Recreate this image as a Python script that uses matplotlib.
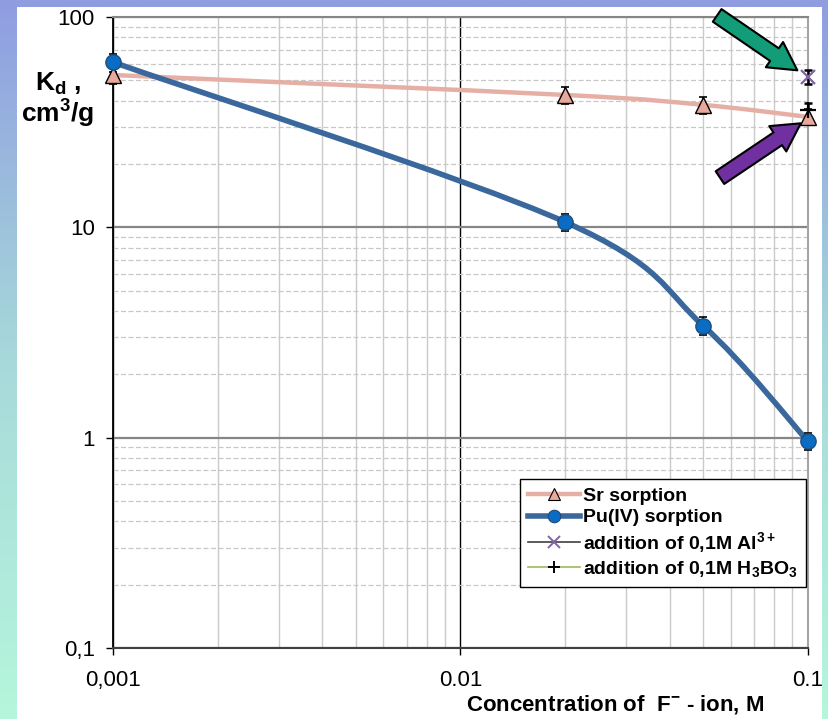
import numpy as np
import matplotlib
matplotlib.use("Agg")
import matplotlib.pyplot as plt
from matplotlib.path import Path
from matplotlib.patches import PathPatch, Rectangle
from matplotlib.lines import Line2D
from matplotlib.colors import LinearSegmentedColormap
from matplotlib.ticker import FixedLocator, FixedFormatter, LogLocator, NullFormatter

plt.rcParams['font.family'] = ['Liberation Sans', 'DejaVu Sans']
plt.rcParams['mathtext.fontset'] = 'custom'
plt.rcParams['mathtext.rm'] = 'Liberation Sans:bold'
plt.rcParams['mathtext.it'] = 'Liberation Sans:bold'
plt.rcParams['mathtext.bf'] = 'Liberation Sans:bold'

# data
conc = [0.001, 0.02, 0.05, 0.1]
sr_kd = [53, 42.6, 38.2, 33.5]
pu_kd = [61, 10.6, 3.4, 0.96]
sr_err = [5, 4, 3.5, 3]
pu_err = [6, 1.0, 0.33, 0.09]
al_conc = [0.1]
al_kd = [52]
al_err = [4]
bor_conc = [0.1]
bor_kd = [36]
bor_err = [3]

xticks = [0.001, 0.01, 0.1]
xticklabels = ['0,001', '0.01', '0.1']
yticks = [0.1, 1, 10, 100]
yticklabels = ['0,1', '1', '10', '100']


def smooth_path(xs, ys):
    # Excel-like smoothed line: cubic bezier through points, built in log space
    lx = np.log10(xs)
    ly = np.log10(ys)
    pts = np.column_stack([lx, ly])
    n = len(pts)
    verts = [pts[0]]
    codes = [Path.MOVETO]
    for i in range(n - 1):
        p0 = pts[i - 1] if i > 0 else pts[i]
        p1 = pts[i]
        p2 = pts[i + 1]
        p3 = pts[i + 2] if i + 2 < n else pts[i + 1]
        c1 = p1 + (p2 - p0) / 6
        c2 = p2 - (p3 - p1) / 6
        verts += [c1, c2, p2]
        codes += [Path.CURVE4] * 3
    return Path(10 ** np.array(verts), codes)


fig = plt.figure(figsize=(8.29, 7.19), dpi=100)

# gradient background + white panel
bg = fig.add_axes([0, 0, 1, 1], zorder=-10)
cmap = LinearSegmentedColormap.from_list('bg', ['#B6F6DC', '#A7D9DA', '#8F9DE1'])
bg.imshow(np.linspace(0, 1, 256).reshape(-1, 1), aspect='auto', cmap=cmap,
          origin='lower', extent=[0, 1, 0, 1])
bg.add_patch(Rectangle((17 / 829, 0), (822 - 17) / 829, 1 - 7 / 719,
                       facecolor='white', edgecolor='none'))
bg.set_xlim(0, 1)
bg.set_ylim(0, 1)
bg.axis('off')

ax = fig.add_axes([113 / 829, 1 - 648 / 719, 695 / 829, 631 / 719])
ax.set_facecolor('white')
ax.set_xscale('log')
ax.set_yscale('log')
ax.set_xlim(0.001, 0.1)
ax.set_ylim(0.1, 100)

ax.xaxis.set_major_locator(FixedLocator(xticks))
ax.xaxis.set_major_formatter(FixedFormatter(xticklabels))
ax.yaxis.set_major_locator(FixedLocator(yticks))
ax.yaxis.set_major_formatter(FixedFormatter(yticklabels))
ax.xaxis.set_minor_locator(LogLocator(base=10, subs=range(2, 10)))
ax.yaxis.set_minor_locator(LogLocator(base=10, subs=range(2, 10)))
ax.xaxis.set_minor_formatter(NullFormatter())
ax.yaxis.set_minor_formatter(NullFormatter())

ax.grid(which='minor', axis='x', color='#CACACA', lw=1.0, ls='-')
ax.grid(which='minor', axis='y', color='#C8C8C8', lw=0.9, ls=(0, (4, 2)))
ax.grid(which='major', axis='y', color='#868686', lw=1.6)
ax.grid(which='major', axis='x', color='black', lw=1.0)
ax.set_axisbelow(True)

ax.tick_params(which='minor', length=0)
ax.tick_params(which='major', length=5, width=1, labelsize=16, colors='black')
ax.tick_params(axis='x', pad=11)
ax.tick_params(axis='y', pad=8)

ax.spines['left'].set_color('black')
ax.spines['left'].set_linewidth(1.3)
ax.spines['bottom'].set_color('#404040')
ax.spines['bottom'].set_linewidth(1.5)
ax.spines['top'].set_color('#868686')
ax.spines['top'].set_linewidth(1.5)
ax.spines['right'].set_color('#A6A6A6')
ax.spines['right'].set_linewidth(1.5)

sr_color = '#E6AFA5'
pu_color = '#3A679C'

ax.add_patch(PathPatch(smooth_path(conc, sr_kd), fill=False, edgecolor=sr_color,
                       lw=3.2, capstyle='round', zorder=3, transform=ax.transData))
ax.add_patch(PathPatch(smooth_path(conc, pu_kd), fill=False, edgecolor=pu_color,
                       lw=4.0, capstyle='round', zorder=3, transform=ax.transData))

ax.errorbar(conc, sr_kd, yerr=sr_err, fmt='none', ecolor='black', elinewidth=1.2,
            capsize=3, capthick=1.2, zorder=4, clip_on=False)
ax.errorbar(conc, pu_kd, yerr=pu_err, fmt='none', ecolor='black', elinewidth=1.2,
            capsize=3, capthick=1.2, zorder=4, clip_on=False)
ax.errorbar(al_conc, al_kd, yerr=al_err, fmt='none', ecolor='black', elinewidth=1.8,
            capsize=3, capthick=1.8, zorder=4, clip_on=False)
ax.errorbar(bor_conc, bor_kd, yerr=bor_err, fmt='none', ecolor='black', elinewidth=1.8,
            capsize=3, capthick=1.8, zorder=4, clip_on=False)

ax.plot(conc, sr_kd, ls='none', marker='^', ms=11, mfc='#E8A89B', mec='black',
        mew=1.0, zorder=5, clip_on=False)
ax.plot(conc, pu_kd, ls='none', marker='o', ms=11, mfc='#0A6CC4', mec='#1F4E79',
        mew=1.0, zorder=5, clip_on=False)
ax.plot(al_conc, al_kd, ls='none', marker='x', ms=10, mec='#8064A2', mew=1.6,
        zorder=5, clip_on=False)
ax.plot(bor_conc, bor_kd, ls='none', marker='+', ms=11, mec='black', mew=1.6,
        zorder=5, clip_on=False)

handles = [
    Line2D([], [], color=sr_color, lw=3.2, marker='^', ms=9, mfc='#E8A89B', mec='black', mew=0.8),
    Line2D([], [], color=pu_color, lw=4.0, marker='o', ms=9, mfc='#0A6CC4', mec='#1F4E79', mew=0.8),
    Line2D([], [], color='#404040', lw=1.2, marker='x', ms=8, mec='#8064A2', mew=1.4),
    Line2D([], [], color='#9BBB59', lw=1.2, marker='+', ms=9, mec='black', mew=1.4),
]
labels = ['Sr sorption', 'Pu(IV) sorption', 'addition of 0,1M Al$^{3+}$',
          'addition of 0,1M H$_3$BO$_3$']
leg = ax.legend(handles, labels, loc='lower right', bbox_to_anchor=(0.997, 0.097),
                prop={'size': 14, 'weight': 'bold'}, frameon=True, fancybox=False,
                edgecolor='black', framealpha=1, handlelength=2.7, handletextpad=0.15,
                labelspacing=0.2, borderpad=0.4, borderaxespad=0)
leg.get_frame().set_linewidth(1.0)
leg.set_zorder(6)

# arrows pointing at the added-reagent points
ax.annotate('', xy=(0.988, 0.913), xytext=(0.866, 1.005), xycoords='axes fraction',
            annotation_clip=False, zorder=7,
            arrowprops=dict(arrowstyle='simple,head_length=2.0,head_width=2.2,tail_width=1.1',
                            mutation_scale=10, fc='#129C77', ec='black', lw=1.5))
ax.annotate('', xy=(0.993, 0.834), xytext=(0.870, 0.743), xycoords='axes fraction',
            annotation_clip=False, zorder=7,
            arrowprops=dict(arrowstyle='simple,head_length=2.0,head_width=2.2,tail_width=1.1',
                            mutation_scale=10, fc='#7030A0', ec='black', lw=1.5))

fig.text(58 / 829, 1 - 84 / 719, 'K$_d$ ,', fontsize=19, fontweight='bold',
         ha='center', va='center')
fig.text(58 / 829, 1 - 114 / 719, 'cm$^3$/g', fontsize=19, fontweight='bold',
         ha='center', va='center')
fig.text(615 / 829, 1 - 704 / 719, 'Concentration of  F$^{\u2212}$ - ion, M', fontsize=16,
         fontweight='bold', ha='center', va='center')

fig.savefig('out.png', dpi=100)
